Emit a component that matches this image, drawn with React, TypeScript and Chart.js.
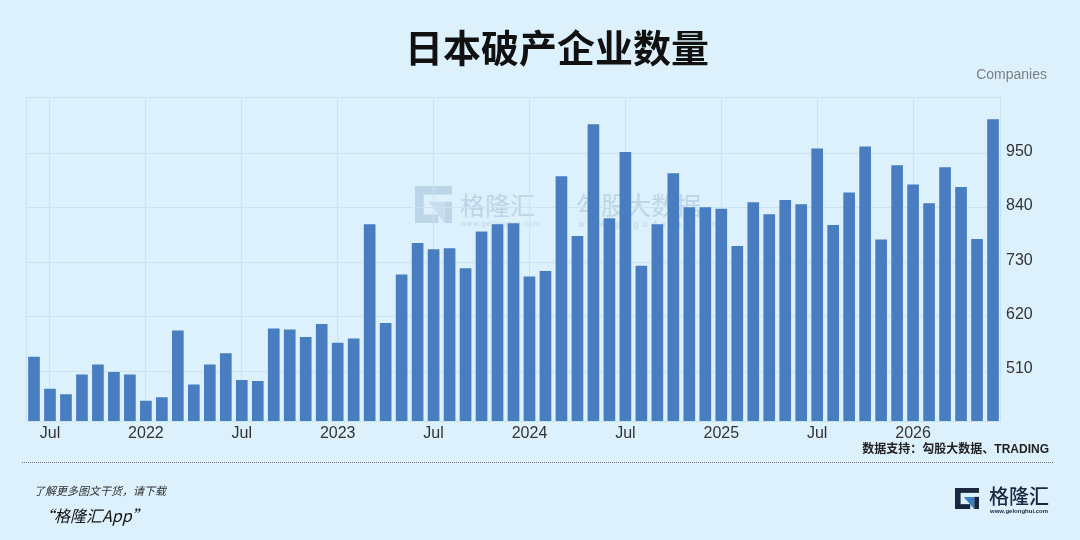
import { useEffect, useRef } from "react"
import { Chart, registerables } from "chart.js"
import type { Plugin } from "chart.js"

Chart.register(...registerables)

// monthly bankruptcies, Jun 2021 .. Jun 2026 (as labelled on the picture)
const MONTHS = [
  "2021-06", "2021-07", "2021-08", "2021-09", "2021-10", "2021-11", "2021-12",
  "2022-01", "2022-02", "2022-03", "2022-04", "2022-05", "2022-06",
  "2022-07", "2022-08", "2022-09", "2022-10", "2022-11", "2022-12",
  "2023-01", "2023-02", "2023-03", "2023-04", "2023-05", "2023-06",
  "2023-07", "2023-08", "2023-09", "2023-10", "2023-11", "2023-12",
  "2024-01", "2024-02", "2024-03", "2024-04", "2024-05", "2024-06",
  "2024-07", "2024-08", "2024-09", "2024-10", "2024-11", "2024-12",
  "2025-01", "2025-02", "2025-03", "2025-04", "2025-05", "2025-06",
  "2025-07", "2025-08", "2025-09", "2025-10", "2025-11", "2025-12",
  "2026-01", "2026-02", "2026-03", "2026-04", "2026-05", "2026-06",
]

const BANKRUPTCIES = [
  539, 474, 463, 503, 523, 508, 503,
  450, 457, 592, 483, 523, 546,
  492, 490, 596, 594, 579, 605,
  567, 576, 807, 607, 705, 769,
  756, 758, 718, 792, 807, 809,
  701, 712, 904, 783, 1009, 819,
  953, 723, 807, 910, 841, 841,
  838, 763, 851, 827, 856, 847,
  960, 805, 871, 964, 776, 926,
  887, 849, 922, 882, 777, 1019,
]

const Y_TICKS = [510, 620, 730, 840, 950]

const BG = "#dcf1fc"
const BAR = "#487dbf"
const GRID = "#cae3f1"
const TICK_FONT = "'Liberation Sans', Arial, sans-serif"
const CJK = "'Noto Sans CJK SC', sans-serif"

function tickText(month: string) {
  const [year, m] = month.split("-")
  if (m === "01") return year
  if (m === "07") return "Jul"
  return ""
}

const frame: Plugin<"bar"> = {
  id: "frame",
  beforeDatasetsDraw(chart) {
    const { ctx, chartArea } = chart
    ctx.save()
    ctx.strokeStyle = GRID
    ctx.lineWidth = 1
    ctx.strokeRect(chartArea.left + 0.5, chartArea.top + 0.5, chartArea.width - 1, chartArea.height)
    ctx.restore()
  },
}

function GLogo({ dark, blue, w, h }: { dark: string; blue: string; w: number; h: number }) {
  return (
    <svg width={w} height={h} viewBox="0 0 30 26" preserveAspectRatio="none">
      <rect x="0" y="0" width="30" height="6" fill={dark} />
      <rect x="0" y="0" width="7" height="26" fill={dark} />
      <rect x="0" y="20" width="19" height="6" fill={dark} />
      <rect x="24" y="11" width="6" height="15" fill={dark} />
      <polygon points="11,11 24,11 24,26" fill={blue} />
    </svg>
  )
}

export default function App() {
  const chartRef = useRef<HTMLCanvasElement>(null)
  const chartInstance = useRef<Chart | null>(null)

  useEffect(() => {
    if (!chartRef.current) return
    if (chartInstance.current) chartInstance.current.destroy()

    const ctx = chartRef.current.getContext("2d")
    if (!ctx) return

    chartInstance.current = new Chart(ctx, {
      type: "bar",
      data: {
        labels: MONTHS,
        datasets: [
          {
            label: "Companies",
            data: BANKRUPTCIES,
            backgroundColor: BAR,
            barPercentage: 0.73,
            categoryPercentage: 1,
          },
        ],
      },
      options: {
        animation: false,
        responsive: false,
        maintainAspectRatio: false,
        layout: { padding: { left: 26, top: 97, right: 0, bottom: 89 } },
        plugins: {
          legend: { display: false },
          tooltip: { enabled: false },
        },
        scales: {
          x: {
            offset: true,
            grid: { offset: false, color: GRID, drawTicks: false },
            border: { display: false },
            ticks: {
              autoSkip: false,
              maxRotation: 0,
              padding: 3,
              color: "#333",
              font: { family: TICK_FONT, size: 16 },
              callback: (v) => tickText(MONTHS[Number(v)]),
            },
            afterBuildTicks: (scale) => {
              scale.ticks = scale.ticks.filter((t) => tickText(MONTHS[t.value]) !== "")
            },
            afterFit: (scale) => {
              scale.height = 30
            },
          },
          y: {
            position: "right",
            min: 409,
            max: 1064,
            grid: { color: GRID, drawTicks: false },
            border: { display: false },
            ticks: {
              padding: 5,
              labelOffset: -2,
              color: "#333",
              font: { family: TICK_FONT, size: 16 },
              callback: (v) => String(v),
            },
            afterBuildTicks: (scale) => {
              scale.ticks = Y_TICKS.map((v) => ({ value: v }))
            },
            afterFit: (scale) => {
              scale.width = 79
            },
          },
        },
      },
      plugins: [frame],
    })

    return () => {
      if (chartInstance.current) {
        chartInstance.current.destroy()
        chartInstance.current = null
      }
    }
  }, [])

  const wm = "#bcd5e7"

  return (
    <div
      style={{
        position: "fixed",
        left: 0,
        top: 0,
        width: 1080,
        height: 540,
        background: BG,
        overflow: "hidden",
        fontFamily: CJK,
      }}
    >
      {/* watermark, sits behind the bars */}
      <div style={{ position: "absolute", left: 415, top: 186 }}>
        <GLogo dark={wm} blue="#c8deee" w={37} h={37} />
      </div>
      <div style={{ position: "absolute", left: 460, top: 189, fontSize: 25, lineHeight: "30px", color: wm }}>
        格隆汇
      </div>
      <div style={{ position: "absolute", left: 461, top: 220, fontSize: 7, color: wm, fontFamily: TICK_FONT, letterSpacing: 1 }}>
        www.gelonghui.com
      </div>
      <div style={{ position: "absolute", left: 556, top: 185, width: 3, height: 47, background: "#c6ddec" }} />
      <div style={{ position: "absolute", left: 576, top: 189, fontSize: 25, lineHeight: "30px", color: wm }}>
        勾股大数据
      </div>
      <div style={{ position: "absolute", left: 578, top: 219, fontSize: 9, color: wm, fontFamily: TICK_FONT, letterSpacing: 4 }}>
        www.gogudata.com
      </div>

      <canvas
        ref={chartRef}
        width={1080}
        height={540}
        style={{ position: "absolute", left: 0, top: 0, width: 1080, height: 540 }}
      />

      <div
        style={{
          position: "absolute",
          left: 405,
          top: 26,
          fontSize: 38,
          lineHeight: "40px",
          fontWeight: 700,
          color: "#111",
          whiteSpace: "nowrap",
        }}
      >
        日本破产企业数量
      </div>

      <div
        style={{
          position: "absolute",
          right: 33,
          top: 66,
          fontSize: 14,
          color: "#7a7f84",
          fontFamily: TICK_FONT,
        }}
      >
        Companies
      </div>

      <div
        style={{
          position: "absolute",
          right: 31,
          top: 441,
          fontSize: 12,
          lineHeight: "16px",
          fontWeight: 700,
          color: "#222",
          whiteSpace: "nowrap",
          fontFamily: "'Liberation Sans', 'Noto Sans CJK SC', sans-serif",
        }}
      >
        数据支持：勾股大数据、TRADING
      </div>

      <div
        style={{
          position: "absolute",
          left: 22,
          top: 462,
          width: 1031,
          borderTop: "1.5px dotted #6f7478",
        }}
      />

      <div
        style={{
          position: "absolute",
          left: 34,
          top: 482,
          fontSize: 11,
          lineHeight: "16px",
          fontStyle: "italic",
          color: "#333",
          whiteSpace: "nowrap",
        }}
      >
        了解更多图文干货，请下载
      </div>
      <div
        style={{
          position: "absolute",
          left: 38,
          top: 504,
          fontSize: 16,
          lineHeight: "22px",
          fontStyle: "italic",
          color: "#111",
          whiteSpace: "nowrap",
        }}
      >
        “格隆汇App”
      </div>

      <div style={{ position: "absolute", left: 955, top: 488 }}>
        <GLogo dark="#1b2740" blue="#3b7dc6" w={24} h={21} />
      </div>
      <div
        style={{
          position: "absolute",
          left: 989,
          top: 484,
          fontSize: 20,
          lineHeight: "24px",
          fontWeight: 500,
          color: "#1b2740",
          whiteSpace: "nowrap",
        }}
      >
        格隆汇
      </div>
      <div
        style={{
          position: "absolute",
          left: 990,
          top: 508,
          fontSize: 6,
          fontWeight: 700,
          color: "#1b2740",
          fontFamily: TICK_FONT,
          whiteSpace: "nowrap",
        }}
      >
        www.gelonghui.com
      </div>
    </div>
  )
}
